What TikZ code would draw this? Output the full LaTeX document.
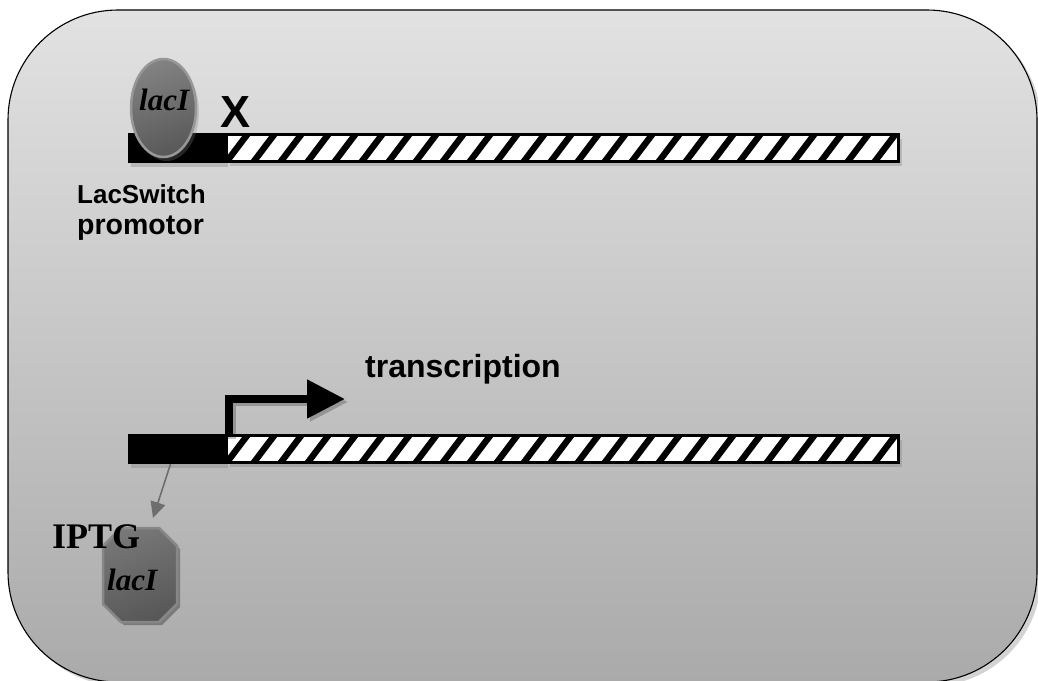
\documentclass[tikz,border=0pt]{standalone}
\usepackage{fontspec}
\usetikzlibrary{arrows.meta,shadows,shapes.geometric}
\newfontfamily\sansf{Liberation Sans}
\newfontfamily\seriff{Liberation Serif}
\definecolor{bgtop}{HTML}{E2E2E2}
\definecolor{bgbot}{HTML}{AAAAAA}
\definecolor{protlight}{HTML}{828282}
\definecolor{protdark}{HTML}{595959}
\definecolor{protedge}{HTML}{979797}
\definecolor{octlight}{HTML}{777777}
\definecolor{octdark}{HTML}{585858}
\definecolor{octedge}{HTML}{878787}
\definecolor{arrowgray}{HTML}{6E6E6E}
\begin{document}
\begin{tikzpicture}[x=1pt,y=-1pt,
  bgbox/.style={draw=black,line width=1.1pt,rounded corners=110pt,top color=bgtop,bottom color=bgbot,
    drop shadow={shadow xshift=4pt,shadow yshift=-4pt,opacity=.35}},
  promoterbox/.style={rectangle,fill=black,inner sep=0pt,outer sep=0pt,minimum width=97pt,minimum height=30pt,
    drop shadow={shadow xshift=3pt,shadow yshift=-4pt,opacity=.35}},
  genebox/.style={rectangle,draw=black,line width=3pt,fill=white,inner sep=0pt,outer sep=0pt,
    minimum width=672pt,minimum height=27pt,
    drop shadow={shadow xshift=3pt,shadow yshift=-4pt,opacity=.35},
    path picture={\foreach \i in {0,...,25}{\fill[black]
      ([xshift=\i*27pt-6pt,yshift=-3pt]path picture bounding box.south west)
      -- ++(8pt,0pt) -- ++(25pt,33pt) -- ++(-8pt,0pt) -- cycle;}}},
  protein/.style={draw=protedge,line width=2.5pt,top color=protlight,bottom color=protdark,shading angle=20},
  protellipse/.style={protein,ellipse,inner sep=0pt,minimum width=65pt,minimum height=98pt,
    drop shadow={shadow xshift=3pt,shadow yshift=-4pt,opacity=.3}},
  octo/.style={draw=octedge,line width=2.5pt,top color=octlight,bottom color=octdark,shading angle=20},
  lactext/.style={font=\seriff\bfseries\itshape\fontsize{31}{36}\selectfont,inner sep=0pt,anchor=base west},
  sanslabel/.style={font=\sansf\bfseries\fontsize{#1}{#1}\selectfont,inner sep=0pt},
  txarrow/.style={draw=black,line width=8pt,line join=miter,-{Triangle[length=38pt,width=37pt]}},
  grayarrow/.style={draw=arrowgray,line width=1.6pt,-{Triangle[length=16pt,width=15pt]}}
]
\useasboundingbox (0,0) rectangle (1038,680);
\path[bgbox] (8,10) rectangle (1037,682);

% ---- top: repressed ----
\node[promoterbox] (p1) at (176.5,148) {};
\node[genebox] (g1) at (562.5,148) {};
\node[protellipse] (lac1) at (163.5,108) {};
\node[lactext] (lac1t) at (139,110) {lacI};
\node[sanslabel=45,anchor=base west] (xmark) at (220,127) {X};
\node[sanslabel=26,anchor=base west] (plabel) at (77,203) {LacSwitch};
\node[sanslabel=28.5,anchor=base west] (plabel2) at (77,234) {promotor};

% ---- bottom: induced ----
\node[promoterbox] (p2) at (176.5,449) {};
\node[genebox] (g2) at (562.5,449) {};
\coordinate (txend) at (345,399);
\draw[txarrow,opacity=.22,transform canvas={xshift=3pt,yshift=-3pt}] ([xshift=2pt]g2.north west) |- (txend);
\draw[txarrow] ([xshift=2pt]g2.north west) |- (txend);
\node[sanslabel=32,anchor=base west] (txlabel) at (365,377) {transcription};

% released repressor
\fill[black,opacity=.3] (124,531) -- (162,531) -- (180,549) -- (180,607) -- (162,625) -- (124,625) -- (106,607) -- (106,549) -- cycle;
\draw[octo] (121,528) -- (159,528) -- (177,546) -- (177,604) -- (159,622) -- (121,622) -- (103,604) -- (103,546) -- cycle;
\coordinate (tip) at (153,518);
\draw[grayarrow] ([xshift=-6pt]p2.south) -- (tip);
\node[font=\seriff\bfseries\fontsize{36}{40}\selectfont,inner sep=0pt,anchor=base west] (iptg) at (52,548) {IPTG};
\node[lactext] (lac2t) at (107,590) {lacI};
\end{tikzpicture}
\end{document}
